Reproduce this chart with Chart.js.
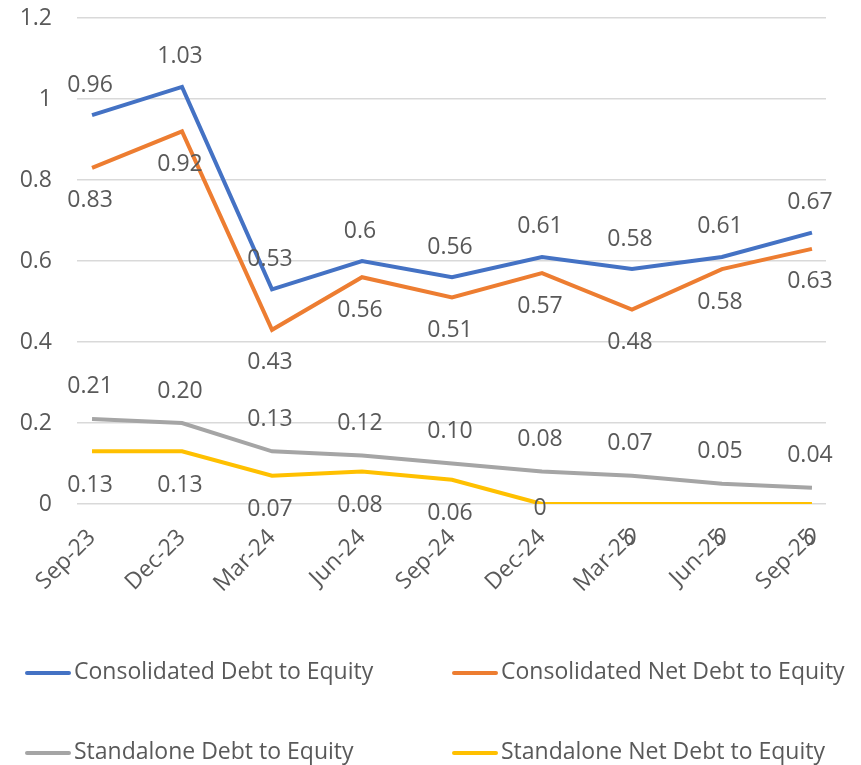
<!DOCTYPE html>
<html lang="en">
<head>
    <meta charset="UTF-8">
    <title>Debt to Equity</title>
    <script src="https://cdn.jsdelivr.net/npm/chart.js@4.4.1/dist/chart.umd.min.js"></script>
    <style>
        body {
            margin: 0;
            padding: 0;
            background: #ffffff;
            font-family: 'Open Sans', sans-serif;
        }
        .wrap {
            position: relative;
            width: 861px;
            height: 765px;
        }
        .legend-item {
            position: absolute;
            font-size: 23px;
            color: #595959;
            white-space: nowrap;
            line-height: 28px;
        }
        .legend-item span.swatch {
            display: inline-block;
            width: 46px;
            height: 4px;
            border-radius: 2px;
            vertical-align: middle;
            margin-right: 3px;
        }
    </style>
</head>
<body>

<div class="wrap">
    <canvas id="deChart" width="861" height="765"></canvas>
    <div id="legend"></div>
</div>

<script>
    const quarters = ['Sep-23', 'Dec-23', 'Mar-24', 'Jun-24', 'Sep-24', 'Dec-24', 'Mar-25', 'Jun-25', 'Sep-25'];
    const consolidatedDE = [0.96, 1.03, 0.53, 0.6, 0.56, 0.61, 0.58, 0.61, 0.67];
    const consolidatedNetDE = [0.83, 0.92, 0.43, 0.56, 0.51, 0.57, 0.48, 0.58, 0.63];
    const standaloneDE = [0.21, 0.20, 0.13, 0.12, 0.10, 0.08, 0.07, 0.05, 0.04];
    const standaloneNetDE = [0.13, 0.13, 0.07, 0.08, 0.06, 0, 0, 0, 0];
    const yTicks = [0, 0.2, 0.4, 0.6, 0.8, 1, 1.2];

    const textColor = '#595959';
    const labelFont = '23px "Open Sans", sans-serif';

    function toPoints(arr) {
        return arr.map((v, i) => ({ x: i, y: v }));
    }

    const datasets = [
        { label: 'Consolidated Debt to Equity', data: toPoints(consolidatedDE), borderColor: '#4472C4', labelDy: -30, fmt: v => String(v) },
        { label: 'Consolidated Net Debt to Equity', data: toPoints(consolidatedNetDE), borderColor: '#ED7D31', labelDy: 33, fmt: v => String(v) },
        { label: 'Standalone Debt to Equity', data: toPoints(standaloneDE), borderColor: '#A5A5A5', labelDy: -32, fmt: v => v.toFixed(2) },
        { label: 'Standalone Net Debt to Equity', data: toPoints(standaloneNetDE), borderColor: '#FFC000', labelDy: 34, labelDyAt: { 5: 4 }, fmt: v => String(v) }
    ];
    datasets.forEach(ds => {
        ds.borderWidth = 4;
        ds.pointRadius = 0;
        ds.pointHoverRadius = 0;
        ds.tension = 0;
        ds.fill = false;
        ds.backgroundColor = ds.borderColor;
    });

    // simple value labels drawn next to each point
    const valueLabels = {
        id: 'valueLabels',
        afterDatasetsDraw(chart) {
            const ctx = chart.ctx;
            ctx.save();
            ctx.font = labelFont;
            ctx.fillStyle = textColor;
            ctx.textAlign = 'center';
            ctx.textBaseline = 'middle';
            chart.data.datasets.forEach((ds, di) => {
                const meta = chart.getDatasetMeta(di);
                meta.data.forEach((pt, i) => {
                    const text = ds.fmt(ds.data[i].y);
                    let dy = ds.labelDy;
                    if (ds.labelDyAt && ds.labelDyAt[i] !== undefined) dy = ds.labelDyAt[i];
                    let x = pt.x - 2;
                    const half = ctx.measureText(text).width / 2;
                    if (x + half > 834) x = 834 - half;
                    ctx.fillText(text, x, pt.y + dy);
                });
            });
            ctx.restore();
        }
    };

    const ctx = document.getElementById('deChart').getContext('2d');
    const deChart = new Chart(ctx, {
        type: 'line',
        data: { datasets: datasets },
        options: {
            responsive: false,
            animation: false,
            layout: { padding: { top: 18, right: 35, left: 0, bottom: 0 } },
            plugins: {
                legend: { display: false },
                tooltip: { enabled: false }
            },
            scales: {
                x: {
                    type: 'linear',
                    min: -0.167,
                    max: 8.156,
                    afterBuildTicks: scale => {
                        scale.ticks = quarters.map((_, i) => ({ value: i }));
                    },
                    afterFit: scale => {
                        scale.height = 261;
                        scale.paddingLeft = 0;
                        scale.paddingRight = 0;
                    },
                    grid: { display: false, drawTicks: false },
                    border: { display: false },
                    ticks: {
                        autoSkip: false,
                        minRotation: 45,
                        maxRotation: 45,
                        padding: 20,
                        color: textColor,
                        font: { family: 'Open Sans', size: 23 },
                        callback: value => quarters[value]
                    }
                },
                y: {
                    min: 0,
                    max: 1.2,
                    afterBuildTicks: scale => {
                        scale.ticks = yTicks.map(v => ({ value: v }));
                    },
                    afterFit: scale => {
                        scale.width = 77;
                        scale.paddingTop = 0;
                        scale.paddingBottom = 0;
                    },
                    grid: { color: '#d9d9d9', lineWidth: 1.5, drawTicks: false },
                    border: { display: false },
                    ticks: {
                        padding: 25,
                        color: textColor,
                        font: { family: 'Open Sans', size: 23 },
                        callback: value => String(value)
                    }
                }
            }
        },
        plugins: [valueLabels]
    });

    // legend in two columns below the chart
    const legendPos = [[25, 656], [452, 656], [25, 736], [452, 736]];
    const legendEl = document.getElementById('legend');
    datasets.forEach((ds, i) => {
        const item = document.createElement('div');
        item.className = 'legend-item';
        item.style.left = legendPos[i][0] + 'px';
        item.style.top = legendPos[i][1] + 'px';
        item.innerHTML = '<span class="swatch" style="background:' + ds.borderColor + '"></span>' + ds.label;
        legendEl.appendChild(item);
    });
</script>

</body>
</html>
